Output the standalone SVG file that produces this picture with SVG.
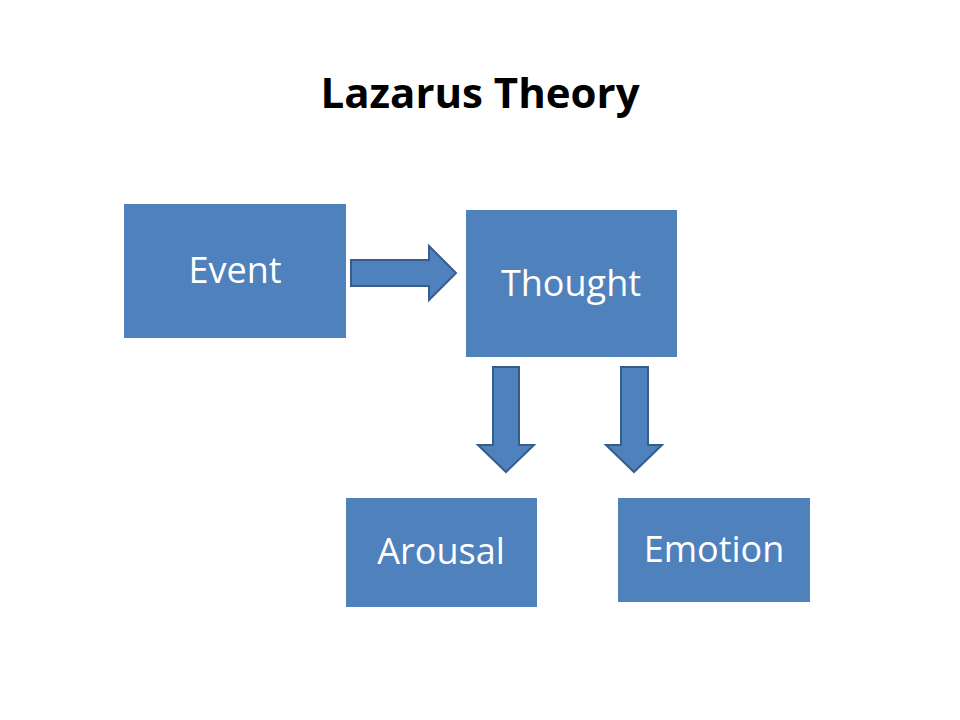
<svg xmlns="http://www.w3.org/2000/svg" width="960" height="720" viewBox="0 0 960 720">
<style>
.box{fill:#4f81bd}
.lbl{fill:#fff;font-family:"Open Sans","Liberation Sans",sans-serif;font-size:36px;text-anchor:middle}
.arr{fill:#4f81bd;stroke:#385d8a;stroke-width:2}
</style>
<rect width="960" height="720" fill="#fff"/>
<text x="480" y="108" font-family="'Open Sans','Liberation Sans',sans-serif" font-weight="bold" font-size="42" text-anchor="middle">Lazarus Theory</text>
<g id="event"><rect class="box" x="124" y="204" width="222" height="134"/><text class="lbl" x="235" y="283">Event</text></g>
<g id="thought"><rect class="box" x="466" y="210" width="211" height="147"/><text class="lbl" x="571" y="296">Thought</text></g>
<g id="arousal"><rect class="box" x="346" y="498" width="191" height="109"/><text class="lbl" x="441" y="564">Arousal</text></g>
<g id="emotion"><rect class="box" x="618" y="498" width="192" height="104"/><text class="lbl" x="714" y="562">Emotion</text></g>
<g id="connectors">
<path class="arr" d="M351 260H429V246L456 273L429 300V286H351Z"/>
<path class="arr" d="M493 367H519V445H534L506 472L478 445H493Z"/>
<path class="arr" d="M621 367H648V445H662L634 472L606 445H621Z"/>
</g>
</svg>
